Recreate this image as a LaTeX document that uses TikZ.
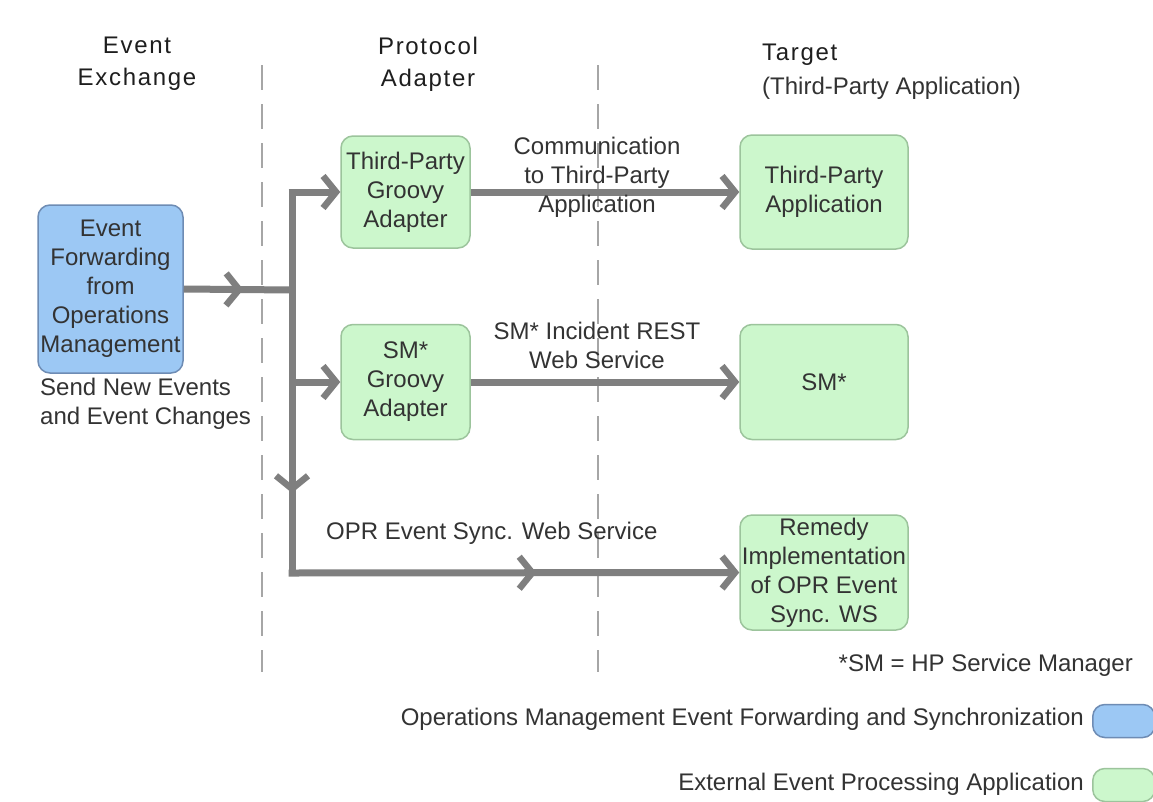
\documentclass[tikz,border=0pt]{standalone}
\usepackage{fontspec}
\setmainfont{Liberation Sans}
\newfontfamily\titlefont[LetterSpace=7]{Liberation Sans}
\usetikzlibrary{arrows.meta,decorations.markings}
\definecolor{linegray}{HTML}{7F7F7F}
\definecolor{dashgray}{HTML}{A6A6A6}
\definecolor{txt}{HTML}{333333}
\definecolor{ttl}{HTML}{1E1E1E}
\definecolor{bluefill}{HTML}{9CC8F4}
\definecolor{bluedraw}{HTML}{6E8CB4}
\definecolor{greenfill}{HTML}{CCF7CC}
\definecolor{greendraw}{HTML}{9CC49C}
\tikzset{
  x=1pt,y=-1pt,
  every node/.style={text=txt,font=\fontsize{24}{29}\selectfont,inner sep=0pt},
  blubox/.style={draw=bluedraw,line width=1.5pt,fill=bluefill,rounded corners=12pt,align=center},
  grnbox/.style={draw=greendraw,line width=1.5pt,fill=greenfill,rounded corners=12pt,align=center},
  divider/.style={dashgray,line width=1.5pt,dash pattern=on 25pt off 14pt},
  tip/.tip={Straight Barb[length=13pt,width=32pt,line width=6.5pt]},
  conn/.style={linegray,line width=7pt},
  arr/.style={conn,-tip},
  midarr/.style={postaction={decorate},decoration={markings,mark=at position #1 with {\arrow{tip}}}},
  coltitle/.style={text=ttl,font=\titlefont\fontsize{24}{32}\selectfont,align=center},
  lbl/.style={align=center}
}
\begin{document}
\begin{tikzpicture}
\useasboundingbox[fill=white] (0,0) rectangle (1153,801);
% dividers
\draw[divider] (262,65) -- (262,672);
\draw[divider] (598,65) -- (598,672);
% titles
\node[coltitle] (t1) at (137,64) {Event\\Exchange};
\node[coltitle] (t2) at (428,64) {Protocol\\Adapter};
\node[coltitle,anchor=west] (t3) at (762,55) {Target};
\node[anchor=west] (t3b) at (762,88) {(Third-Party Application)};
% boxes
\node[blubox,minimum width=145pt,minimum height=168pt] (src) at (110.5,289) {Event\\Forwarding\\from\\Operations\\Management};
\node[anchor=north west,align=left] (srcl) at (40,378) {Send New Events\\and Event Changes};
\node[grnbox,minimum width=129pt,minimum height=112pt] (ga) at (405.5,192) {Third-Party\\Groovy\\Adapter};
\node[grnbox,minimum width=129pt,minimum height=115pt] (sa) at (405.5,382) {SM*\\Groovy\\Adapter};
\node[grnbox,minimum width=168pt,minimum height=114pt] (tp) at (824,192) {Third-Party\\Application};
\node[grnbox,minimum width=168pt,minimum height=115pt] (sm) at (824,382) {SM*};
\node[grnbox,minimum width=168pt,minimum height=115pt] (rm) at (824,572.5) {Remedy\\Implementation\\of OPR Event\\Sync. WS};
% junction coordinates
\coordinate (j) at (292,290);
\coordinate (jt) at (292,192);
\coordinate (jm) at (292,382);
\coordinate (jb) at (292,573);
% connectors
\draw[conn,midarr=0.55] (src.east) -- (j);
\draw[conn,midarr=0.79] (jt) -- (jb);
\draw[arr] ([xshift=-3.5pt]jt) -- (ga.west);
\draw[arr] (jm) -- (sa.west);
\draw[arr,midarr=0.55] ([xshift=-3.5pt]jb) -- (rm.west);
\draw[arr] (ga.east) -- (tp.west);
\draw[arr] (sa.east) -- (sm.west);
% connector labels
\node[lbl] (l1) at (597,177) {Communication\\to Third-Party\\Application};
\node[lbl] (l2) at (597,345) {SM* Incident REST\\Web Service};
\node[anchor=west] (l3) at (326,533) {OPR Event Sync. Web Service};
% notes and legend
\node[anchor=east] (note) at (1133,665) {*SM = HP Service Manager};
\node[blubox,minimum width=62pt,minimum height=33pt,anchor=west] (lgb) at (1092,721) {};
\node[grnbox,minimum width=62pt,minimum height=33pt,anchor=west] (lgg) at (1092,785) {};
\node[anchor=east] (lgbt) at (1084,719) {Operations Management Event Forwarding and Synchronization};
\node[anchor=east] (lggt) at (1084,784) {External Event Processing Application};
\end{tikzpicture}
\end{document}
